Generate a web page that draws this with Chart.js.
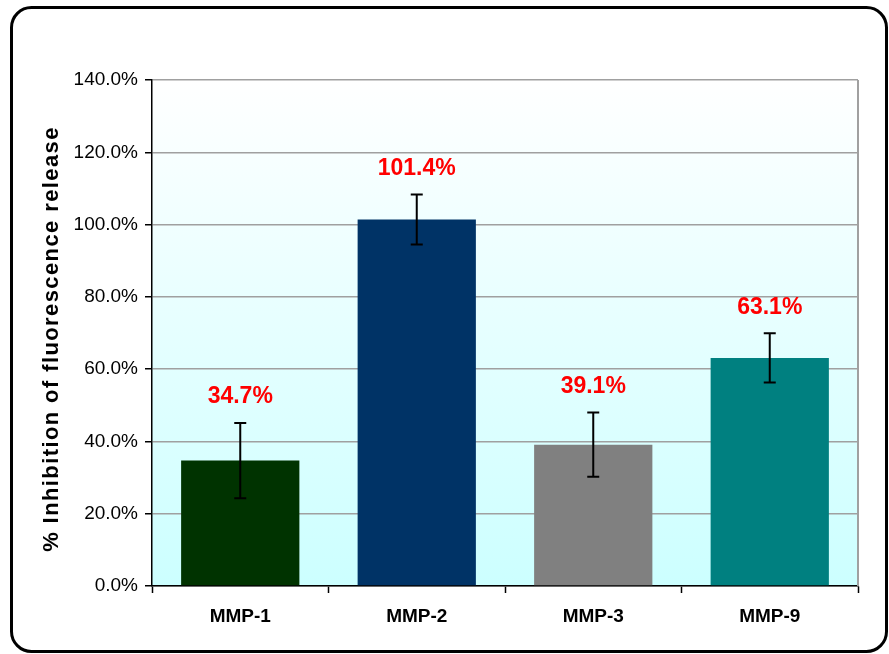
<!DOCTYPE html>
<html>
<head>
<meta charset="utf-8">
<script src="https://cdn.jsdelivr.net/npm/chart.js@4"></script>
<style>
  html, body { margin: 0; padding: 0; background: #fff; }
  #wrap { width: 889px; height: 654px; }
</style>
</head>
<body>
<div id="wrap"><canvas id="bar-chart" width="889" height="654"></canvas></div>
<script>
const categories = ['MMP-1', 'MMP-2', 'MMP-3', 'MMP-9'];
const inhibition = [34.7, 101.4, 39.1, 63.1];
const errors = [10.4, 6.9, 8.9, 6.8];
const barColors = ['#003300', '#003366', '#808080', '#008080'];
const yTitle = '% Inhibition of fluorescence release';

const chartPlugin = {
  id: 'extras',
  beforeDraw(chart) {
    const { ctx, chartArea: a } = chart;
    ctx.save();
    ctx.fillStyle = '#fff';
    ctx.fillRect(0, 0, chart.width, chart.height);
    const g = ctx.createLinearGradient(0, a.top, 0, a.bottom);
    g.addColorStop(0, '#ffffff');
    g.addColorStop(1, '#ccffff');
    ctx.fillStyle = g;
    ctx.fillRect(a.left, a.top, a.right - a.left, a.bottom - a.top);
    ctx.restore();
  },
  afterDatasetsDraw(chart) {
    const { ctx, chartArea: a } = chart;
    const y = chart.scales.y;
    const meta = chart.getDatasetMeta(0);
    ctx.save();
    // right edge of plot area
    ctx.strokeStyle = '#a0a0a0';
    ctx.lineWidth = 2;
    ctx.beginPath();
    ctx.moveTo(a.right, a.top);
    ctx.lineTo(a.right, a.bottom);
    ctx.stroke();

    meta.data.forEach((bar, i) => {
      const x = bar.x;
      const yHi = y.getPixelForValue(inhibition[i] + errors[i]);
      const yLo = y.getPixelForValue(inhibition[i] - errors[i]);
      ctx.strokeStyle = '#000';
      ctx.lineWidth = 2;
      ctx.beginPath();
      ctx.moveTo(x, yHi); ctx.lineTo(x, yLo);
      ctx.moveTo(x - 6, yHi); ctx.lineTo(x + 6, yHi);
      ctx.moveTo(x - 6, yLo); ctx.lineTo(x + 6, yLo);
      ctx.stroke();

      ctx.fillStyle = '#ff0000';
      ctx.font = 'bold 23px "Liberation Sans", Arial, sans-serif';
      ctx.textAlign = 'center';
      ctx.textBaseline = 'middle';
      ctx.fillText(inhibition[i].toFixed(1) + '%', x, yHi - 26);
    });

    // y axis title
    ctx.translate(52, (a.top + a.bottom) / 2 + 6);
    ctx.rotate(-Math.PI / 2);
    ctx.fillStyle = '#000';
    ctx.font = 'bold 22px "Liberation Sans", Arial, sans-serif';
    ctx.letterSpacing = '1.4px';
    ctx.textAlign = 'center';
    ctx.textBaseline = 'middle';
    ctx.fillText(yTitle, 0, 0);
    ctx.restore();
  },
  afterDraw(chart) {
    const ctx = chart.ctx;
    ctx.save();
    ctx.strokeStyle = '#000';
    ctx.lineWidth = 3;
    ctx.beginPath();
    ctx.roundRect(11.5, 7.5, 875, 644, 20);
    ctx.stroke();
    ctx.restore();
  }
};

const ctx = document.getElementById('bar-chart');

new Chart(ctx, {
  type: 'bar',
  data: {
    labels: categories,
    datasets: [{
      data: inhibition,
      backgroundColor: barColors,
      borderWidth: 0,
      categoryPercentage: 1,
      barPercentage: 0.67
    }]
  },
  options: {
    responsive: false,
    animation: false,
    layout: { padding: { left: 0, top: 80, right: 31, bottom: 0 } },
    plugins: {
      legend: { display: false },
      tooltip: { enabled: false }
    },
    scales: {
      x: {
        afterFit: s => { s.height = 68; },
        grid: {
          offset: true,
          drawOnChartArea: false,
          tickLength: 7,
          tickColor: '#000',
          tickWidth: 1.5
        },
        border: { color: '#000', width: 1.5 },
        ticks: {
          color: '#000',
          padding: 12,
          font: { family: '"Liberation Sans", Arial, sans-serif', size: 19, weight: 'bold' }
        }
      },
      y: {
        min: 0,
        max: 140,
        afterFit: s => { s.width = 152; },
        grid: {
          color: '#a0a0a0',
          lineWidth: 1.5,
          tickLength: 7,
          tickColor: '#000',
          tickWidth: 1.5
        },
        border: { color: '#000', width: 1.5 },
        ticks: {
          stepSize: 20,
          color: '#000',
          padding: 7,
          font: { family: '"Liberation Sans", Arial, sans-serif', size: 19 },
          callback: v => v.toFixed(1) + '%'
        }
      }
    }
  },
  plugins: [chartPlugin]
});
</script>
</body>
</html>
